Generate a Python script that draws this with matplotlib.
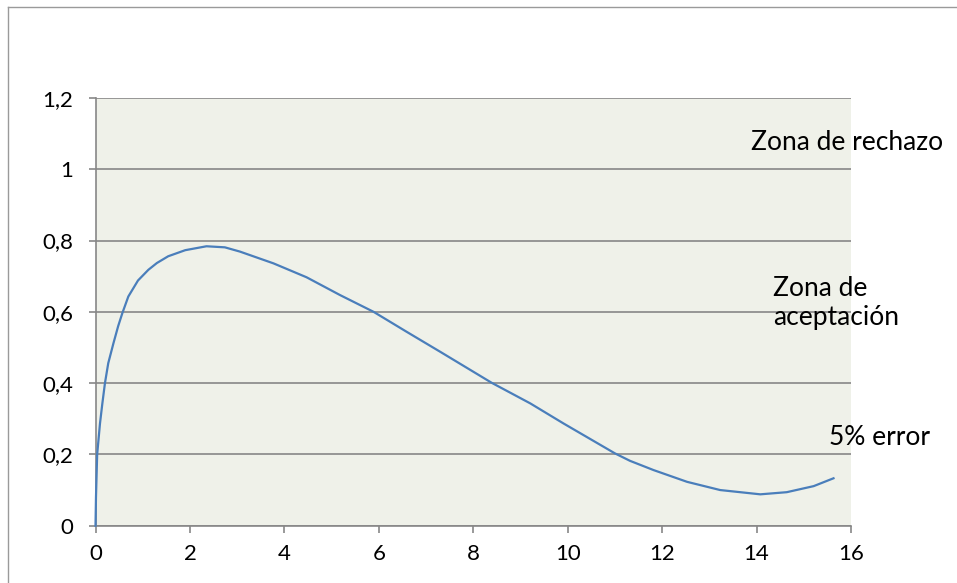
import matplotlib
matplotlib.use('Agg')
import matplotlib.pyplot as plt
from matplotlib.lines import Line2D

# values
x = [0, 0.01, 0.035, 0.095, 0.145, 0.2, 0.27, 0.38, 0.48, 0.57, 0.695, 0.9,
     1.12, 1.3, 1.54, 1.9, 2.35, 2.74, 3.06, 3.77, 4.47, 5.18, 5.89, 6.59,
     7.3, 8.39, 9.21, 9.91, 11.0, 11.32, 11.82, 12.53, 13.23, 14.08, 14.64,
     15.21, 15.63]
y = [0, 0.08, 0.2, 0.287, 0.343, 0.4, 0.456, 0.512, 0.56, 0.597, 0.643, 0.688,
     0.718, 0.737, 0.756, 0.773, 0.784, 0.781, 0.769, 0.736, 0.697, 0.647,
     0.6, 0.544, 0.488, 0.401, 0.343, 0.287, 0.203, 0.182, 0.156, 0.123,
     0.1, 0.088, 0.094, 0.111, 0.133]

yticks = [0, 0.2, 0.4, 0.6, 0.8, 1.0, 1.2]
ylabels = ['0', '0,2', '0,4', '0,6', '0,8', '1', '1,2']
xticks = [0, 2, 4, 6, 8, 10, 12, 14, 16]

plt.rcParams['font.family'] = ['Lato', 'DejaVu Sans']
grey = '#878787'

fig = plt.figure(figsize=(9.57, 5.83), dpi=100)
ax = fig.add_axes([0.0998, 0.0983, 0.7894, 0.7336])
ax.set_facecolor('#eff1e9')

ax.plot(x, y, color='#4a7ebb', lw=1.6, clip_on=False, zorder=3,
        solid_joinstyle='round')

ax.set_xlim(0, 16)
ax.set_ylim(0, 1.2)
ax.set_xticks(xticks)
ax.set_yticks(yticks)
ax.set_yticklabels(ylabels)
ax.grid(axis='y', color=grey, lw=1.2)
ax.set_axisbelow(True)
for s in ['top', 'right']:
    ax.spines[s].set_visible(False)
for s in ['left', 'bottom']:
    ax.spines[s].set_color(grey)
    ax.spines[s].set_linewidth(1.2)
ax.tick_params(colors=grey, length=5, width=1.2, labelcolor='black',
               labelsize=16)
ax.tick_params(axis='x', pad=8)
ax.tick_params(axis='y', pad=11)

ax.text(13.89, 1.076, 'Zona de rechazo', fontsize=19, va='center',
        clip_on=False)
ax.text(14.35, 0.625, 'Zona de\naceptación', fontsize=19, va='center',
        linespacing=1.2, clip_on=False)
ax.text(15.54, 0.248, '5% error', fontsize=19, va='center', clip_on=False)

# chart frame
fig.add_artist(Line2D([8 / 957, 8 / 957], [0, 1 - 7 / 583], color='#9a9a9a', lw=1))
fig.add_artist(Line2D([8 / 957, 1], [1 - 7 / 583, 1 - 7 / 583], color='#9a9a9a', lw=1))

fig.savefig('out.png', dpi=100)
